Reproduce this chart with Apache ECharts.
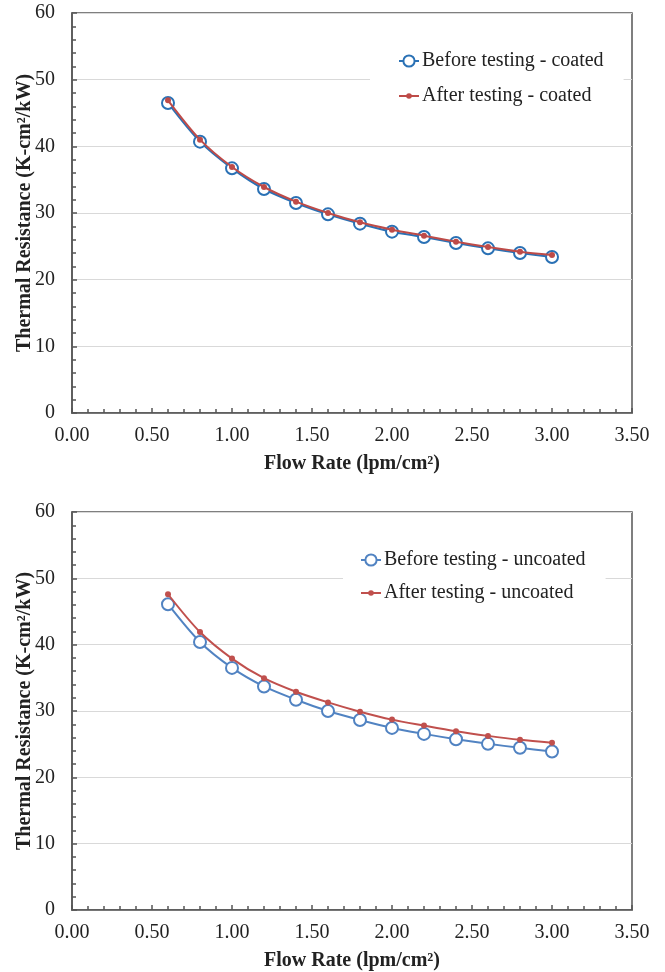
<!DOCTYPE html>
<html>
<head>
<meta charset="utf-8">
<script src="https://cdn.jsdelivr.net/npm/echarts@6/dist/echarts.min.js"></script>
<style>
html,body{margin:0;padding:0;background:#fff;}
#chart{width:665px;height:972px;}
</style>
</head>
<body>
<div id="chart"></div>
<script>
// Data
const flowRates = [0.6, 0.8, 1.0, 1.2, 1.4, 1.6, 1.8, 2.0, 2.2, 2.4, 2.6, 2.8, 3.0];
const beforeCoated   = [46.5, 40.7, 36.7, 33.6, 31.5, 29.8, 28.4, 27.2, 26.4, 25.5, 24.7, 24.0, 23.4];
const afterCoated    = [46.9, 41.0, 36.9, 33.9, 31.7, 30.0, 28.6, 27.5, 26.6, 25.7, 24.9, 24.2, 23.7];
const beforeUncoated = [46.1, 40.4, 36.5, 33.7, 31.7, 30.0, 28.65, 27.45, 26.55, 25.75, 25.05, 24.45, 23.9];
const afterUncoated  = [47.6, 41.9, 37.9, 34.95, 32.9, 31.3, 29.9, 28.7, 27.8, 26.95, 26.25, 25.65, 25.2];
const seriesNames = ['Before testing - coated', 'After testing - coated', 'Before testing - uncoated', 'After testing - uncoated'];
const xTitle = 'Flow Rate (lpm/cm²)';
const yTitle = 'Thermal Resistance (K-cm²/kW)';

const FONT = 'Liberation Serif';
const axisColor = '#555555';
const textColor = '#222222';

function pairs(ys) { return flowRates.map((x, i) => [x, ys[i]]); }

function xAxis(gi) {
  return {
    type: 'value', gridIndex: gi, min: 0, max: 3.5, interval: 0.5,
    name: xTitle, nameLocation: 'middle', nameGap: 41, nameMoveOverlap: false,
    nameTextStyle: { fontFamily: FONT, fontSize: 20, fontWeight: 'bold', color: textColor },
    axisLine: { show: true, lineStyle: { color: axisColor, width: 1.5 } },
    axisTick: { show: true, inside: true, length: 5, lineStyle: { color: axisColor, width: 1.5 } },
    minorTick: { show: true, splitNumber: 5, length: 4, lineStyle: { color: axisColor, width: 1.5 } },
    axisLabel: { fontFamily: FONT, fontSize: 20, color: textColor, margin: 13, formatter: v => v.toFixed(2) },
    splitLine: { show: false }
  };
}
function yAxis(gi) {
  return {
    type: 'value', gridIndex: gi, min: 0, max: 60, interval: 10,
    name: yTitle, nameLocation: 'middle', nameGap: 37, nameRotate: 90, nameMoveOverlap: false,
    nameTextStyle: { fontFamily: FONT, fontSize: 20, fontWeight: 'bold', color: textColor },
    axisLine: { show: true, lineStyle: { color: axisColor, width: 1.5 } },
    axisTick: { show: true, inside: true, length: 5, lineStyle: { color: axisColor, width: 1.5 } },
    minorTick: { show: true, splitNumber: 5, length: 4, lineStyle: { color: axisColor, width: 1.5 } },
    axisLabel: { fontFamily: FONT, fontSize: 20, color: textColor, margin: 17 },
    splitLine: { show: true, lineStyle: { color: '#d9d9d9', width: 1 } }
  };
}
function beforeSeries(name, ys, gi, color) {
  return {
    name: name, type: 'line', xAxisIndex: gi, yAxisIndex: gi, data: pairs(ys),
    smooth: 0.3, symbol: 'emptyCircle', symbolSize: 12,
    lineStyle: { color: color, width: 2 },
    itemStyle: { color: color, borderColor: color, borderWidth: 2 },
    z: 2
  };
}
function afterSeries(name, ys, gi, color) {
  return {
    name: name, type: 'line', xAxisIndex: gi, yAxisIndex: gi, data: pairs(ys),
    smooth: 0.3, symbol: 'circle', symbolSize: 6,
    lineStyle: { color: color, width: 2 },
    itemStyle: { color: color },
    z: 3
  };
}
function legend(name, left, top, pad, itemH, bg) {
  return {
    data: [name], orient: 'vertical', left: left, top: top, padding: pad,
    itemWidth: 20, itemHeight: itemH,
    backgroundColor: bg,
    textStyle: { fontFamily: FONT, fontSize: 20, color: textColor, lineHeight: 20, padding: [0, 0, 0, -2] }
  };
}

const chart = echarts.init(document.getElementById('chart'), null, { renderer: 'canvas' });
chart.setOption({
  animation: false,
  backgroundColor: '#ffffff',
  grid: [
    { left: 72, top: 13, width: 560, height: 400, show: true, borderColor: axisColor, borderWidth: 1.5, backgroundColor: 'transparent' },
    { left: 72, top: 512, width: 560, height: 400, show: true, borderColor: axisColor, borderWidth: 1.5, backgroundColor: 'transparent' }
  ],
  xAxis: [xAxis(0), xAxis(1)],
  yAxis: [yAxis(0), yAxis(1)],
  legend: [
    legend(seriesNames[0], 370, 45, [6, 20, 41, 28], 14, '#ffffff'),
    legend(seriesNames[1], 398, 86, 0, 7, 'transparent'),
    legend(seriesNames[2], 343, 544, [6, 20, 39, 17], 14, '#ffffff'),
    legend(seriesNames[3], 360, 583, 0, 7, 'transparent')
  ],
  series: [
    beforeSeries(seriesNames[0], beforeCoated, 0, '#2a71b5'),
    afterSeries(seriesNames[1], afterCoated, 0, '#be4b48'),
    beforeSeries(seriesNames[2], beforeUncoated, 1, '#5183c2'),
    afterSeries(seriesNames[3], afterUncoated, 1, '#c0504d')
  ]
});
</script>
</body>
</html>
